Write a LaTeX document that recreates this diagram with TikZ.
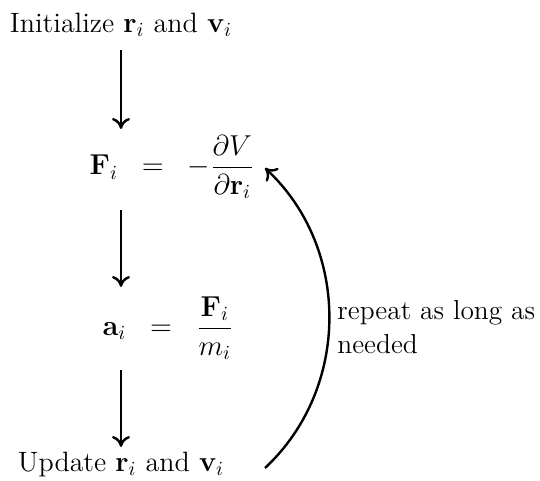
\documentclass[tikz,border=0pt]{standalone}
\usepackage{amsmath}
\usetikzlibrary{arrows.meta}
\begin{document}
\begin{tikzpicture}[x=0.5pt,y=-0.5pt,
  lbl/.style={inner sep=0pt,font=\fontsize{14}{17}\selectfont},
  flow/.style={line width=1.2pt,-{To[length=5.5pt,width=9pt]}},
  loop/.style={line width=1.2pt,-{To[length=5.5pt,width=9pt]}}]
\useasboundingbox (0,0) rectangle (540,481);
\node[lbl] (init) at (121,25) {Initialize $\mathbf{r}_i$ and $\mathbf{v}_i$};
\node[lbl] (force) at (172,167) {$\mathbf{F}_i \;\;=\;\; -\dfrac{\partial V}{\partial \mathbf{r}_i}$};
\node[lbl] (acc) at (168,328) {$\mathbf{a}_i \;\;=\;\; \dfrac{\mathbf{F}_i}{m_i}$};
\node[lbl] (upd) at (121,464) {Update $\mathbf{r}_i$ and $\mathbf{v}_i$};
\node[lbl,anchor=west,align=left,font=\fontsize{13.7}{17}\selectfont] (rep) at (337,327) {repeat as long as\\needed};
\coordinate (a1s) at (121,50);
\coordinate (a1e) at (121,129);
\coordinate (a2s) at (121,210);
\coordinate (a2e) at (121,287);
\coordinate (a3s) at (121,370);
\coordinate (a3e) at (121,447);
\draw[flow] (a1s) -- (a1e);
\draw[flow] (a2s) -- (a2e);
\draw[flow] (a3s) -- (a3e);
\coordinate (ls) at (265,468);
\coordinate (le) at (265,168);
\draw[loop] (ls) to[bend right=47] (le);
\end{tikzpicture}
\end{document}
